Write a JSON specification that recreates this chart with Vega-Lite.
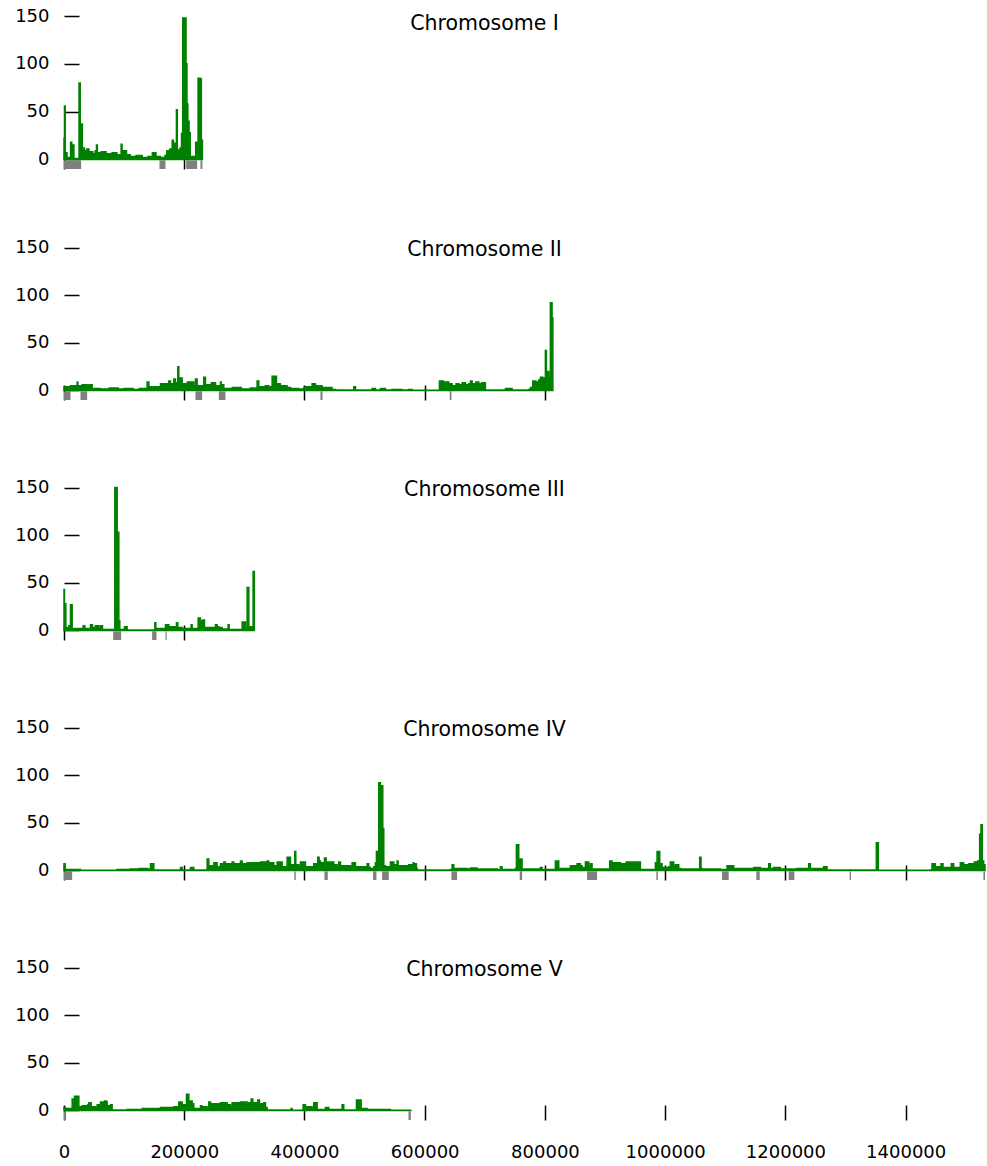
{
"$schema": "https://vega.github.io/schema/vega-lite/v6.json",
"padding": {"left": 14, "top": 7, "right": 2, "bottom": 3},
"spacing": 68,
"config": {"font": "DejaVu Sans", "view": {"stroke": null},
  "axis": {"domain": false, "grid": false, "tickSize": -15, "tickWidth": 1.5, "tickColor": "black", "labelColor": "black", "labelFontSize": 18, "labelFont": "DejaVu Sans", "title": null, "zindex": 1},
  "axisX": {"labelPadding": 38, "format": "d", "labelFlush": false},
  "axisY": {"labelPadding": 30, "values": [0, 50, 100, 150]},
  "title": {"fontSize": 20.5, "fontWeight": "normal", "font": "DejaVu Sans", "color": "black", "dx": -40}
},
"datasets": {
"feat": [
{"chr":"I","start":0,"end":28550},{"chr":"I","start":158800,"end":168800},{"chr":"I","start":203200,"end":221500},{"chr":"I","start":227000,"end":230218},
{"chr":"II","start":0,"end":10810},{"chr":"II","start":27440,"end":38530},{"chr":"II","start":218680,"end":229770},{"chr":"II","start":257490,"end":268570},{"chr":"II","start":426560,"end":430000},{"chr":"II","start":641630,"end":644500},
{"chr":"III","start":81800,"end":95100},{"chr":"III","start":146600,"end":153800},{"chr":"III","start":168800,"end":170800},
{"chr":"IV","start":0,"end":13580},{"chr":"IV","start":383000,"end":385500},{"chr":"IV","start":433210,"end":438760},{"chr":"IV","start":514140,"end":519680},{"chr":"IV","start":529100,"end":540200},{"chr":"IV","start":644400,"end":653800},{"chr":"IV","start":758000,"end":762000},{"chr":"IV","start":870000,"end":886650},{"chr":"IV","start":985300,"end":987800},{"chr":"IV","start":1094530,"end":1105620},{"chr":"IV","start":1151620,"end":1157170},{"chr":"IV","start":1205400,"end":1214820},{"chr":"IV","start":1306840,"end":1309000},{"chr":"IV","start":1529300,"end":1531933},
{"chr":"V","start":0,"end":3500},{"chr":"V","start":573000,"end":576874}
],
"cov": [
{"chr":"I","pos":0,"cov":22},{"chr":"I","pos":800,"cov":56},{"chr":"I","pos":2000,"cov":7},{"chr":"I","pos":5000,"cov":2},{"chr":"I","pos":11000,"cov":18},{"chr":"I","pos":13000,"cov":3},{"chr":"I","pos":15000,"cov":15},{"chr":"I","pos":16500,"cov":1},{"chr":"I","pos":25000,"cov":80},{"chr":"I","pos":27000,"cov":3},{"chr":"I","pos":29000,"cov":37},{"chr":"I","pos":30500,"cov":12},{"chr":"I","pos":34000,"cov":9},{"chr":"I","pos":38000,"cov":11},{"chr":"I","pos":41500,"cov":6},{"chr":"I","pos":44000,"cov":8},{"chr":"I","pos":48000,"cov":6},{"chr":"I","pos":52000,"cov":9},{"chr":"I","pos":54000,"cov":15},{"chr":"I","pos":55500,"cov":7},{"chr":"I","pos":62000,"cov":8},{"chr":"I","pos":70000,"cov":6},{"chr":"I","pos":80000,"cov":7},{"chr":"I","pos":88000,"cov":5},{"chr":"I","pos":95000,"cov":16},{"chr":"I","pos":96500,"cov":9},{"chr":"I","pos":104000,"cov":5},{"chr":"I","pos":110000,"cov":3},{"chr":"I","pos":120000,"cov":4},{"chr":"I","pos":130000,"cov":2},{"chr":"I","pos":140000,"cov":3},{"chr":"I","pos":147000,"cov":7},{"chr":"I","pos":153000,"cov":3},{"chr":"I","pos":160000,"cov":2},{"chr":"I","pos":168000,"cov":4},{"chr":"I","pos":171000,"cov":9},{"chr":"I","pos":176000,"cov":11},{"chr":"I","pos":180000,"cov":20},{"chr":"I","pos":182000,"cov":10},{"chr":"I","pos":183000,"cov":17},{"chr":"I","pos":185000,"cov":10},{"chr":"I","pos":187000,"cov":52},{"chr":"I","pos":188500,"cov":10},{"chr":"I","pos":193000,"cov":12},{"chr":"I","pos":195500,"cov":27},{"chr":"I","pos":197500,"cov":148},{"chr":"I","pos":203000,"cov":100},{"chr":"I","pos":204500,"cov":58},{"chr":"I","pos":206000,"cov":40},{"chr":"I","pos":208000,"cov":28},{"chr":"I","pos":210000,"cov":3},{"chr":"I","pos":219000,"cov":18},{"chr":"I","pos":222000,"cov":5},{"chr":"I","pos":223000,"cov":85},{"chr":"I","pos":227000,"cov":84},{"chr":"I","pos":228500,"cov":20},{"chr":"I","pos":230218,"cov":20},
{"chr":"II","pos":0,"cov":4},{"chr":"II","pos":10800,"cov":5},{"chr":"II","pos":21900,"cov":9},{"chr":"II","pos":23000,"cov":5},{"chr":"II","pos":30200,"cov":6},{"chr":"II","pos":38500,"cov":4},{"chr":"II","pos":41300,"cov":6},{"chr":"II","pos":46800,"cov":2},{"chr":"II","pos":60000,"cov":1.5},{"chr":"II","pos":75000,"cov":2.5},{"chr":"II","pos":90000,"cov":1.5},{"chr":"II","pos":100000,"cov":2},{"chr":"II","pos":115000,"cov":1},{"chr":"II","pos":125000,"cov":2},{"chr":"II","pos":138300,"cov":9},{"chr":"II","pos":141100,"cov":4},{"chr":"II","pos":146600,"cov":3},{"chr":"II","pos":149400,"cov":4},{"chr":"II","pos":160500,"cov":7},{"chr":"II","pos":174300,"cov":10},{"chr":"II","pos":177100,"cov":7},{"chr":"II","pos":182700,"cov":12},{"chr":"II","pos":185400,"cov":8},{"chr":"II","pos":189300,"cov":25},{"chr":"II","pos":191000,"cov":10},{"chr":"II","pos":192600,"cov":13},{"chr":"II","pos":196500,"cov":7},{"chr":"II","pos":205000,"cov":9},{"chr":"II","pos":215900,"cov":5},{"chr":"II","pos":218700,"cov":12},{"chr":"II","pos":221500,"cov":5},{"chr":"II","pos":232500,"cov":14},{"chr":"II","pos":235300,"cov":6},{"chr":"II","pos":245000,"cov":8},{"chr":"II","pos":252000,"cov":5},{"chr":"II","pos":260300,"cov":9},{"chr":"II","pos":261400,"cov":6},{"chr":"II","pos":265800,"cov":2},{"chr":"II","pos":280000,"cov":3},{"chr":"II","pos":295000,"cov":1.5},{"chr":"II","pos":310000,"cov":2.5},{"chr":"II","pos":321200,"cov":10},{"chr":"II","pos":324000,"cov":3},{"chr":"II","pos":326800,"cov":4},{"chr":"II","pos":335000,"cov":5},{"chr":"II","pos":340600,"cov":4},{"chr":"II","pos":346200,"cov":15},{"chr":"II","pos":353400,"cov":7},{"chr":"II","pos":360000,"cov":5},{"chr":"II","pos":371100,"cov":3},{"chr":"II","pos":376700,"cov":2},{"chr":"II","pos":390000,"cov":1.5},{"chr":"II","pos":398900,"cov":3},{"chr":"II","pos":401600,"cov":4},{"chr":"II","pos":412700,"cov":7},{"chr":"II","pos":418200,"cov":5},{"chr":"II","pos":423800,"cov":4},{"chr":"II","pos":426600,"cov":5},{"chr":"II","pos":429300,"cov":3},{"chr":"II","pos":445900,"cov":1},{"chr":"II","pos":451500,"cov":0.5},{"chr":"II","pos":482000,"cov":4},{"chr":"II","pos":484800,"cov":0.5},{"chr":"II","pos":512500,"cov":2},{"chr":"II","pos":518000,"cov":0.5},{"chr":"II","pos":526300,"cov":2},{"chr":"II","pos":534600,"cov":0.5},{"chr":"II","pos":545700,"cov":1},{"chr":"II","pos":562400,"cov":0.5},{"chr":"II","pos":573500,"cov":1},{"chr":"II","pos":579000,"cov":0.3},{"chr":"II","pos":624500,"cov":10},{"chr":"II","pos":631000,"cov":9},{"chr":"II","pos":640000,"cov":7},{"chr":"II","pos":645500,"cov":5},{"chr":"II","pos":652000,"cov":7},{"chr":"II","pos":657000,"cov":6},{"chr":"II","pos":662200,"cov":8},{"chr":"II","pos":668000,"cov":6},{"chr":"II","pos":673200,"cov":7},{"chr":"II","pos":676000,"cov":10},{"chr":"II","pos":678800,"cov":7},{"chr":"II","pos":685000,"cov":9},{"chr":"II","pos":690000,"cov":7},{"chr":"II","pos":695000,"cov":8},{"chr":"II","pos":700950,"cov":0.5},{"chr":"II","pos":734200,"cov":2},{"chr":"II","pos":745300,"cov":0.5},{"chr":"II","pos":773000,"cov":1},{"chr":"II","pos":775800,"cov":3},{"chr":"II","pos":779700,"cov":10},{"chr":"II","pos":785000,"cov":9},{"chr":"II","pos":789700,"cov":11},{"chr":"II","pos":792400,"cov":14},{"chr":"II","pos":796300,"cov":13},{"chr":"II","pos":800700,"cov":42},{"chr":"II","pos":802400,"cov":14},{"chr":"II","pos":803500,"cov":20},{"chr":"II","pos":806300,"cov":14},{"chr":"II","pos":809000,"cov":92},{"chr":"II","pos":811800,"cov":76},{"chr":"II","pos":813184,"cov":76},
{"chr":"III","pos":0,"cov":43},{"chr":"III","pos":830,"cov":28},{"chr":"III","pos":3050,"cov":3},{"chr":"III","pos":8040,"cov":5},{"chr":"III","pos":10810,"cov":27},{"chr":"III","pos":13580,"cov":2},{"chr":"III","pos":31880,"cov":5},{"chr":"III","pos":34650,"cov":2},{"chr":"III","pos":44070,"cov":6},{"chr":"III","pos":47400,"cov":3},{"chr":"III","pos":52380,"cov":5},{"chr":"III","pos":57930,"cov":2},{"chr":"III","pos":60700,"cov":5},{"chr":"III","pos":64030,"cov":1},{"chr":"III","pos":84530,"cov":150},{"chr":"III","pos":88420,"cov":103},{"chr":"III","pos":91190,"cov":10},{"chr":"III","pos":92850,"cov":1},{"chr":"III","pos":100610,"cov":4},{"chr":"III","pos":105050,"cov":0.5},{"chr":"III","pos":151060,"cov":8},{"chr":"III","pos":152720,"cov":0.5},{"chr":"III","pos":154940,"cov":2},{"chr":"III","pos":168800,"cov":6},{"chr":"III","pos":174340,"cov":4},{"chr":"III","pos":187090,"cov":8},{"chr":"III","pos":189300,"cov":3},{"chr":"III","pos":196510,"cov":2},{"chr":"III","pos":211480,"cov":6},{"chr":"III","pos":213140,"cov":2},{"chr":"III","pos":223130,"cov":13},{"chr":"III","pos":227000,"cov":10},{"chr":"III","pos":228670,"cov":4},{"chr":"III","pos":230880,"cov":11},{"chr":"III","pos":233650,"cov":3},{"chr":"III","pos":251940,"cov":6},{"chr":"III","pos":254720,"cov":4},{"chr":"III","pos":257490,"cov":3},{"chr":"III","pos":263030,"cov":1.5},{"chr":"III","pos":273010,"cov":6},{"chr":"III","pos":274680,"cov":1},{"chr":"III","pos":296290,"cov":9},{"chr":"III","pos":301830,"cov":3},{"chr":"III","pos":304610,"cov":45},{"chr":"III","pos":307380,"cov":4},{"chr":"III","pos":314590,"cov":62},{"chr":"III","pos":316620,"cov":62},
{"chr":"IV","pos":0,"cov":7},{"chr":"IV","pos":1940,"cov":1},{"chr":"IV","pos":27440,"cov":0.3},{"chr":"IV","pos":88420,"cov":1},{"chr":"IV","pos":110000,"cov":1.5},{"chr":"IV","pos":125000,"cov":2},{"chr":"IV","pos":138300,"cov":1.5},{"chr":"IV","pos":143850,"cov":7},{"chr":"IV","pos":149390,"cov":0.5},{"chr":"IV","pos":193740,"cov":3},{"chr":"IV","pos":196510,"cov":0.5},{"chr":"IV","pos":210370,"cov":3},{"chr":"IV","pos":215910,"cov":0.5},{"chr":"IV","pos":238090,"cov":12},{"chr":"IV","pos":240860,"cov":5},{"chr":"IV","pos":249170,"cov":8},{"chr":"IV","pos":254720,"cov":4},{"chr":"IV","pos":260260,"cov":7},{"chr":"IV","pos":265800,"cov":9},{"chr":"IV","pos":268570,"cov":7},{"chr":"IV","pos":279660,"cov":9},{"chr":"IV","pos":282430,"cov":7},{"chr":"IV","pos":293520,"cov":10},{"chr":"IV","pos":296290,"cov":7},{"chr":"IV","pos":304610,"cov":8},{"chr":"IV","pos":326780,"cov":9},{"chr":"IV","pos":337870,"cov":10},{"chr":"IV","pos":340640,"cov":8},{"chr":"IV","pos":348950,"cov":5},{"chr":"IV","pos":354500,"cov":9},{"chr":"IV","pos":362810,"cov":4},{"chr":"IV","pos":371130,"cov":14},{"chr":"IV","pos":376670,"cov":6},{"chr":"IV","pos":382210,"cov":3},{"chr":"IV","pos":383880,"cov":20},{"chr":"IV","pos":385540,"cov":6},{"chr":"IV","pos":390530,"cov":4},{"chr":"IV","pos":393300,"cov":9},{"chr":"IV","pos":401610,"cov":4},{"chr":"IV","pos":415470,"cov":7},{"chr":"IV","pos":421020,"cov":4},{"chr":"IV","pos":422130,"cov":14},{"chr":"IV","pos":424350,"cov":10},{"chr":"IV","pos":426560,"cov":8},{"chr":"IV","pos":432100,"cov":4},{"chr":"IV","pos":433210,"cov":13},{"chr":"IV","pos":435990,"cov":9},{"chr":"IV","pos":448740,"cov":6},{"chr":"IV","pos":454280,"cov":3},{"chr":"IV","pos":457050,"cov":9},{"chr":"IV","pos":459820,"cov":5},{"chr":"IV","pos":476450,"cov":4},{"chr":"IV","pos":479220,"cov":8},{"chr":"IV","pos":484760,"cov":4},{"chr":"IV","pos":504160,"cov":7},{"chr":"IV","pos":506930,"cov":3},{"chr":"IV","pos":509710,"cov":2},{"chr":"IV","pos":515250,"cov":4},{"chr":"IV","pos":518020,"cov":8},{"chr":"IV","pos":519680,"cov":20},{"chr":"IV","pos":523560,"cov":92},{"chr":"IV","pos":526330,"cov":89},{"chr":"IV","pos":530210,"cov":44},{"chr":"IV","pos":531880,"cov":5},{"chr":"IV","pos":534650,"cov":4},{"chr":"IV","pos":542970,"cov":9},{"chr":"IV","pos":548510,"cov":6},{"chr":"IV","pos":554060,"cov":10},{"chr":"IV","pos":555720,"cov":5},{"chr":"IV","pos":573460,"cov":6},{"chr":"IV","pos":579000,"cov":3},{"chr":"IV","pos":580670,"cov":8},{"chr":"IV","pos":581780,"cov":7},{"chr":"IV","pos":586210,"cov":2},{"chr":"IV","pos":587320,"cov":0.5},{"chr":"IV","pos":642750,"cov":1},{"chr":"IV","pos":645520,"cov":6},{"chr":"IV","pos":648290,"cov":2},{"chr":"IV","pos":670460,"cov":1.5},{"chr":"IV","pos":676010,"cov":2.5},{"chr":"IV","pos":687100,"cov":1.5},{"chr":"IV","pos":720360,"cov":1},{"chr":"IV","pos":725900,"cov":4},{"chr":"IV","pos":728670,"cov":1},{"chr":"IV","pos":750850,"cov":2},{"chr":"IV","pos":752510,"cov":27},{"chr":"IV","pos":756390,"cov":12},{"chr":"IV","pos":761930,"cov":1.5},{"chr":"IV","pos":792420,"cov":3},{"chr":"IV","pos":795190,"cov":1},{"chr":"IV","pos":817360,"cov":10},{"chr":"IV","pos":822910,"cov":2},{"chr":"IV","pos":842310,"cov":5},{"chr":"IV","pos":853400,"cov":7},{"chr":"IV","pos":858940,"cov":5},{"chr":"IV","pos":861710,"cov":3},{"chr":"IV","pos":867250,"cov":9},{"chr":"IV","pos":872800,"cov":4},{"chr":"IV","pos":875570,"cov":7},{"chr":"IV","pos":878340,"cov":1.5},{"chr":"IV","pos":907720,"cov":10},{"chr":"IV","pos":911600,"cov":8},{"chr":"IV","pos":925460,"cov":7},{"chr":"IV","pos":935000,"cov":9},{"chr":"IV","pos":958720,"cov":1},{"chr":"IV","pos":983670,"cov":8},{"chr":"IV","pos":986440,"cov":20},{"chr":"IV","pos":990870,"cov":7},{"chr":"IV","pos":994750,"cov":3},{"chr":"IV","pos":1005840,"cov":4},{"chr":"IV","pos":1008610,"cov":9},{"chr":"IV","pos":1014150,"cov":4},{"chr":"IV","pos":1016920,"cov":6},{"chr":"IV","pos":1022470,"cov":2},{"chr":"IV","pos":1025240,"cov":1.5},{"chr":"IV","pos":1057390,"cov":14},{"chr":"IV","pos":1059610,"cov":2},{"chr":"IV","pos":1061270,"cov":1.5},{"chr":"IV","pos":1091760,"cov":1},{"chr":"IV","pos":1102850,"cov":5},{"chr":"IV","pos":1113930,"cov":2},{"chr":"IV","pos":1147190,"cov":3},{"chr":"IV","pos":1158280,"cov":2},{"chr":"IV","pos":1172140,"cov":7},{"chr":"IV","pos":1174910,"cov":2},{"chr":"IV","pos":1180450,"cov":3},{"chr":"IV","pos":1191540,"cov":1.5},{"chr":"IV","pos":1219260,"cov":2},{"chr":"IV","pos":1238660,"cov":7},{"chr":"IV","pos":1241430,"cov":2},{"chr":"IV","pos":1263600,"cov":4},{"chr":"IV","pos":1269140,"cov":0.5},{"chr":"IV","pos":1351180,"cov":29},{"chr":"IV","pos":1354510,"cov":0.3},{"chr":"IV","pos":1440980,"cov":0.5},{"chr":"IV","pos":1443760,"cov":7},{"chr":"IV","pos":1449300,"cov":3},{"chr":"IV","pos":1452070,"cov":4},{"chr":"IV","pos":1458720,"cov":7},{"chr":"IV","pos":1462050,"cov":3},{"chr":"IV","pos":1475910,"cov":7},{"chr":"IV","pos":1479790,"cov":3},{"chr":"IV","pos":1490880,"cov":8},{"chr":"IV","pos":1496420,"cov":6},{"chr":"IV","pos":1504740,"cov":7},{"chr":"IV","pos":1514160,"cov":9},{"chr":"IV","pos":1517490,"cov":5},{"chr":"IV","pos":1519710,"cov":10},{"chr":"IV","pos":1523040,"cov":38},{"chr":"IV","pos":1525260,"cov":48},{"chr":"IV","pos":1527470,"cov":10},{"chr":"IV","pos":1529690,"cov":6},{"chr":"IV","pos":1531933,"cov":6},
{"chr":"V","pos":0,"cov":3},{"chr":"V","pos":2490,"cov":2},{"chr":"V","pos":13580,"cov":12},{"chr":"V","pos":17460,"cov":15},{"chr":"V","pos":24670,"cov":4},{"chr":"V","pos":30210,"cov":5},{"chr":"V","pos":38530,"cov":3},{"chr":"V","pos":39630,"cov":6},{"chr":"V","pos":41300,"cov":8},{"chr":"V","pos":45180,"cov":4},{"chr":"V","pos":52380,"cov":3},{"chr":"V","pos":55160,"cov":6},{"chr":"V","pos":60700,"cov":9},{"chr":"V","pos":67350,"cov":10},{"chr":"V","pos":70680,"cov":9},{"chr":"V","pos":71790,"cov":5},{"chr":"V","pos":77330,"cov":6},{"chr":"V","pos":80100,"cov":0.5},{"chr":"V","pos":105050,"cov":1},{"chr":"V","pos":127220,"cov":0.5},{"chr":"V","pos":129990,"cov":2},{"chr":"V","pos":135530,"cov":1},{"chr":"V","pos":138300,"cov":2},{"chr":"V","pos":160480,"cov":3},{"chr":"V","pos":182650,"cov":4},{"chr":"V","pos":190960,"cov":9},{"chr":"V","pos":196510,"cov":6},{"chr":"V","pos":202060,"cov":4},{"chr":"V","pos":203720,"cov":17},{"chr":"V","pos":207600,"cov":10},{"chr":"V","pos":213140,"cov":7},{"chr":"V","pos":215910,"cov":2},{"chr":"V","pos":226990,"cov":5},{"chr":"V","pos":229760,"cov":4},{"chr":"V","pos":238080,"cov":2},{"chr":"V","pos":240860,"cov":9},{"chr":"V","pos":243630,"cov":7},{"chr":"V","pos":260260,"cov":8},{"chr":"V","pos":271340,"cov":6},{"chr":"V","pos":276890,"cov":4},{"chr":"V","pos":279660,"cov":8},{"chr":"V","pos":293520,"cov":9},{"chr":"V","pos":304610,"cov":7},{"chr":"V","pos":307380,"cov":8},{"chr":"V","pos":311260,"cov":12},{"chr":"V","pos":314030,"cov":8},{"chr":"V","pos":321230,"cov":6},{"chr":"V","pos":322350,"cov":11},{"chr":"V","pos":325120,"cov":7},{"chr":"V","pos":332320,"cov":8},{"chr":"V","pos":335100,"cov":3},{"chr":"V","pos":337860,"cov":0.5},{"chr":"V","pos":377780,"cov":2},{"chr":"V","pos":379440,"cov":0.3},{"chr":"V","pos":396070,"cov":0.5},{"chr":"V","pos":397730,"cov":6},{"chr":"V","pos":401610,"cov":4},{"chr":"V","pos":412700,"cov":1},{"chr":"V","pos":415470,"cov":8},{"chr":"V","pos":421010,"cov":1},{"chr":"V","pos":434870,"cov":3},{"chr":"V","pos":440420,"cov":1},{"chr":"V","pos":462590,"cov":6},{"chr":"V","pos":465360,"cov":0.5},{"chr":"V","pos":486430,"cov":11},{"chr":"V","pos":494190,"cov":2},{"chr":"V","pos":504160,"cov":1},{"chr":"V","pos":542960,"cov":0.3},{"chr":"V","pos":576874,"cov":0.3}
]
},
"vconcat": [
{"title": {"text": "Chromosome I", "offset": -27}, "width": 921, "height": 153,
 "layer": [
  {"data": {"name": "feat"}, "transform": [{"filter": "datum.chr == 'I'"}], "mark": {"type": "rect", "color": "#808080"},
   "encoding": {"x": {"field": "start", "type": "quantitative"}, "x2": {"field": "end"}, "y": {"datum": -1, "type": "quantitative"}, "y2": {"datum": -10}}},
  {"data": {"name": "cov"}, "transform": [{"filter": "datum.chr == 'I'"}], "mark": {"type": "area", "interpolate": "step-after", "color": "#008000", "stroke": "#008000", "strokeWidth": 1.5},
   "encoding": {"x": {"field": "pos", "type": "quantitative", "scale": {"domain": [0, 1531933], "nice": false}, "axis": {"values": [0, 200000], "labels": false}},
    "y": {"field": "cov", "type": "quantitative", "scale": {"domain": [-10, 150], "nice": false}}}}
 ]},
{"spacing": 77, "vconcat": [
{"title": {"text": "Chromosome II", "offset": -22}, "width": 921, "height": 162,
 "layer": [
  {"data": {"name": "feat"}, "transform": [{"filter": "datum.chr == 'II'"}], "mark": {"type": "rect", "color": "#808080"},
   "encoding": {"x": {"field": "start", "type": "quantitative"}, "x2": {"field": "end"}, "y": {"datum": -1, "type": "quantitative"}, "y2": {"datum": -10}}},
  {"data": {"name": "cov"}, "transform": [{"filter": "datum.chr == 'II'"}], "mark": {"type": "area", "interpolate": "step-after", "color": "#008000", "stroke": "#008000", "strokeWidth": 1.5},
   "encoding": {"x": {"field": "pos", "type": "quantitative", "scale": {"domain": [0, 1531933], "nice": false}, "axis": {"values": [0, 200000, 400000, 600000, 800000], "labels": false}},
    "y": {"field": "cov", "type": "quantitative", "scale": {"domain": [-10, 160], "nice": false}}}}
 ]},
{"title": {"text": "Chromosome III", "offset": -22}, "width": 921, "height": 162,
 "layer": [
  {"data": {"name": "feat"}, "transform": [{"filter": "datum.chr == 'III'"}], "mark": {"type": "rect", "color": "#808080"},
   "encoding": {"x": {"field": "start", "type": "quantitative"}, "x2": {"field": "end"}, "y": {"datum": -1, "type": "quantitative"}, "y2": {"datum": -10}}},
  {"data": {"name": "cov"}, "transform": [{"filter": "datum.chr == 'III'"}], "mark": {"type": "area", "interpolate": "step-after", "color": "#008000", "stroke": "#008000", "strokeWidth": 1.5},
   "encoding": {"x": {"field": "pos", "type": "quantitative", "scale": {"domain": [0, 1531933], "nice": false}, "axis": {"values": [0, 200000], "labels": false}},
    "y": {"field": "cov", "type": "quantitative", "scale": {"domain": [-10, 160], "nice": false}}}}
 ]},
{"title": {"text": "Chromosome IV", "offset": -22}, "width": 921, "height": 162,
 "layer": [
  {"data": {"name": "feat"}, "transform": [{"filter": "datum.chr == 'IV'"}], "mark": {"type": "rect", "color": "#808080"},
   "encoding": {"x": {"field": "start", "type": "quantitative"}, "x2": {"field": "end"}, "y": {"datum": -1, "type": "quantitative"}, "y2": {"datum": -10}}},
  {"data": {"name": "cov"}, "transform": [{"filter": "datum.chr == 'IV'"}], "mark": {"type": "area", "interpolate": "step-after", "color": "#008000", "stroke": "#008000", "strokeWidth": 1.5},
   "encoding": {"x": {"field": "pos", "type": "quantitative", "scale": {"domain": [0, 1531933], "nice": false}, "axis": {"values": [0, 200000, 400000, 600000, 800000, 1000000, 1200000, 1400000], "labels": false}},
    "y": {"field": "cov", "type": "quantitative", "scale": {"domain": [-10, 160], "nice": false}}}}
 ]},
{"title": {"text": "Chromosome V", "offset": -22}, "width": 921, "height": 162,
 "layer": [
  {"data": {"name": "feat"}, "transform": [{"filter": "datum.chr == 'V'"}], "mark": {"type": "rect", "color": "#808080"},
   "encoding": {"x": {"field": "start", "type": "quantitative"}, "x2": {"field": "end"}, "y": {"datum": -1, "type": "quantitative"}, "y2": {"datum": -10}}},
  {"data": {"name": "cov"}, "transform": [{"filter": "datum.chr == 'V'"}], "mark": {"type": "area", "interpolate": "step-after", "color": "#008000", "stroke": "#008000", "strokeWidth": 1.5},
   "encoding": {"x": {"field": "pos", "type": "quantitative", "scale": {"domain": [0, 1531933], "nice": false}, "axis": {"values": [0, 200000, 400000, 600000, 800000, 1000000, 1200000, 1400000], "labels": true}},
    "y": {"field": "cov", "type": "quantitative", "scale": {"domain": [-10, 160], "nice": false}}}}
 ]}
]}
]
}
